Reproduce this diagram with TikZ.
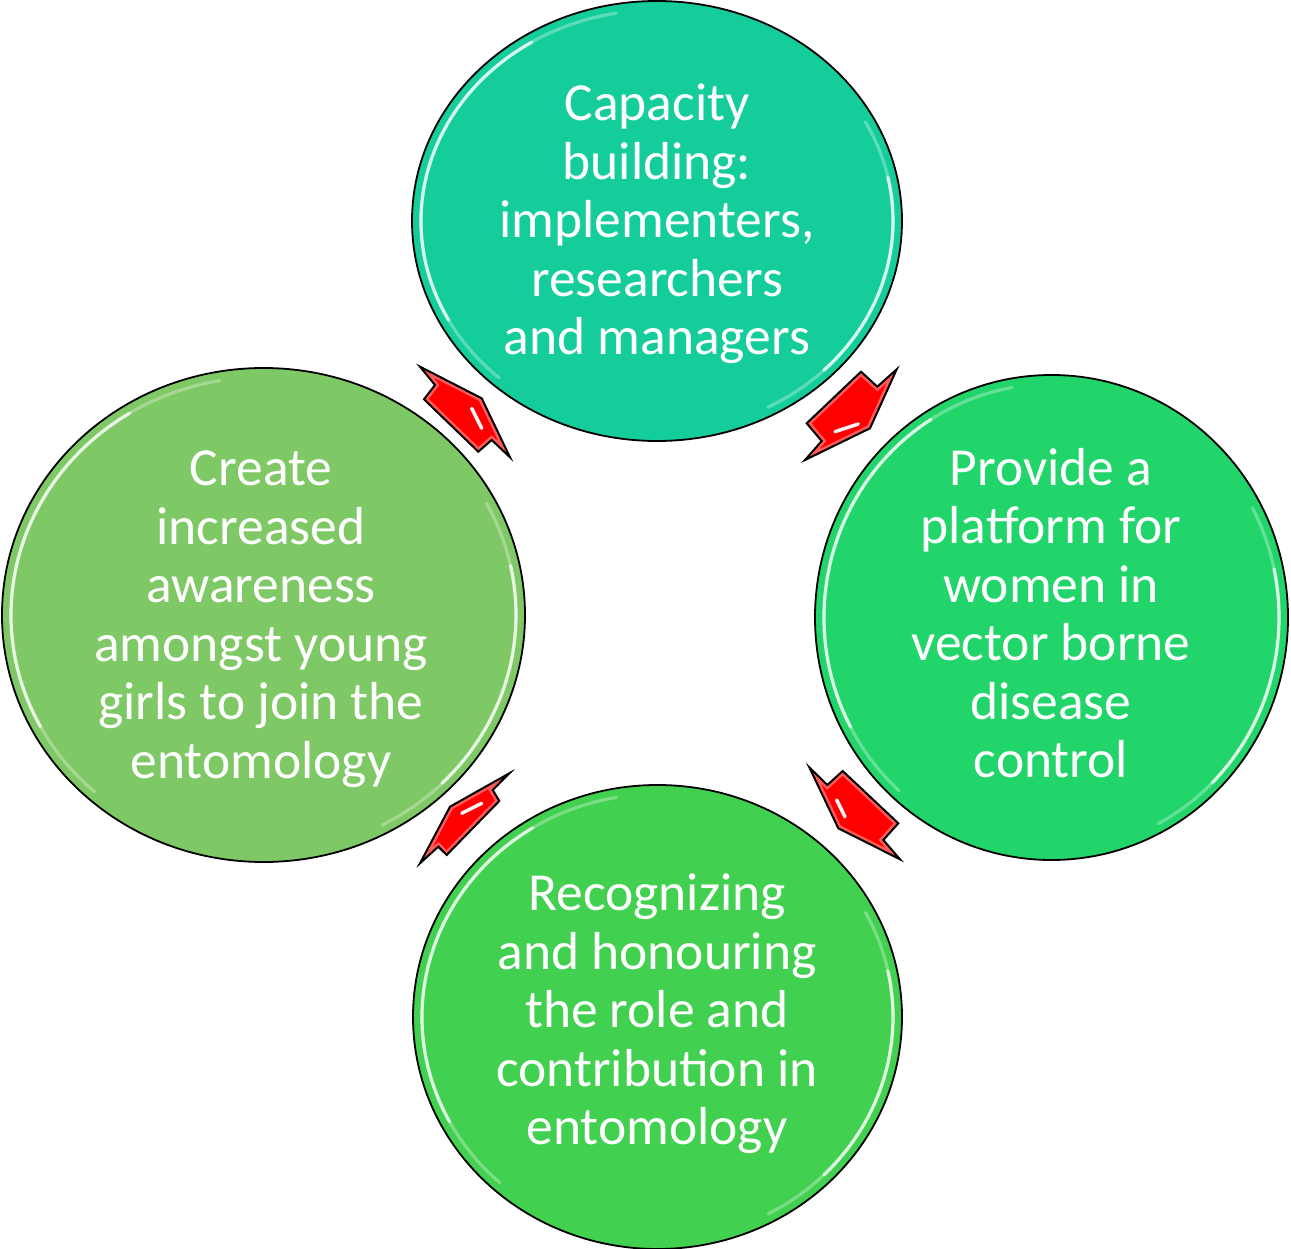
\documentclass[tikz,border=0pt]{standalone}
\usepackage{fontspec}
\setmainfont{Carlito}
\usetikzlibrary{shapes.geometric}
\definecolor{cTop}{RGB}{21,205,155}
\definecolor{cRight}{RGB}{34,213,106}
\definecolor{cBottom}{RGB}{66,208,80}
\definecolor{cLeft}{RGB}{126,200,101}
\definecolor{arrowred}{RGB}{255,0,0}
\newcommand\glossring[4]{%
  \draw[glossfaint] ([shift={(#1,#2)}]100:#3pt and #4pt) arc[start angle=100,end angle=228,x radius=#3pt,y radius=#4pt];
  \draw[gloss] ([shift={(#1,#2)}]122:#3pt and #4pt) arc[start angle=122,end angle=208,x radius=#3pt,y radius=#4pt];
  \draw[glossfaint] ([shift={(#1,#2)}]-62:#3pt and #4pt) arc[start angle=-62,end angle=28,x radius=#3pt,y radius=#4pt];
  \draw[gloss] ([shift={(#1,#2)}]-45:#3pt and #4pt) arc[start angle=-45,end angle=12,x radius=#3pt,y radius=#4pt];
}
\newcommand\redblock[1]{%
  \fill[arrowred] #1;
  \begin{scope}
    \clip #1;
    \draw[white, opacity=0.35, line width=7pt, line join=miter] #1;
  \end{scope}
  \draw[redarrow] #1;
}
\begin{document}
\begin{tikzpicture}[x=1pt,y=1pt,
  bubble/.style={ellipse, draw=black, line width=1.8pt, inner sep=0pt},
  bubbletext/.style={text=white, align=center, font=\fontsize{53.5}{58.5}\selectfont, inner sep=0pt},
  gloss/.style={white, line width=3.2pt, opacity=0.75, line cap=round},
  glossfaint/.style={white, line width=3.2pt, opacity=0.3, line cap=round},
  redarrow/.style={draw=black, line width=2pt, line join=miter},
  shine/.style={white, line width=3.5pt, line cap=round, opacity=0.95}]
\useasboundingbox (0,0) rectangle (1291,-1249);
\fill[white] (0,0) rectangle (1291,-1249);

% circles
\node[bubble, fill=cTop, minimum width=490pt, minimum height=440pt] (top) at (657,-221) {};
\node[bubble, fill=cRight, minimum width=473pt, minimum height=485pt] (right) at (1051.5,-617.5) {};
\node[bubble, fill=cLeft, minimum width=523pt, minimum height=494pt] (left) at (263.5,-615) {};
\node[bubble, fill=cBottom, minimum width=489pt, minimum height=464pt] (bottom) at (657.5,-1017) {};

\glossring{657}{-221}{236}{211}
\glossring{1051.5}{-617.5}{227.5}{233.5}
\glossring{263.5}{-615}{252.5}{238}
\glossring{657.5}{-1017}{235.5}{223}

% texts
\node[bubbletext] (toptext) at (top.center) [yshift=-3pt] {Capacity\\building:\\implementers,\\researchers\\and managers};
\node[bubbletext] (righttext) at (1051,-613) {Provide a\\platform for\\women in\\vector borne\\disease\\control};
\node[bubbletext] (bottomtext) at (657,-1014) {Recognizing\\and honouring\\the role and\\contribution in\\entomology};
\node[bubbletext] (lefttext) at (261,-619) {Create\\increased\\awareness\\amongst young\\girls to join the\\entomology};

% arrows
\redblock{(896.7,-369.3) -- (877.3,-386.7) -- (861,-371.7) -- (806.7,-423.3) -- (821.7,-441) -- (805,-460) -- (870,-428.3) -- cycle}
\draw[shine] (835,-431.7) -- (858.3,-424);

\redblock{(420,-366.7) -- (435,-385) -- (424,-399.3) -- (478.3,-451.7) -- (491.7,-440) -- (510,-457.3) -- (481.7,-398.3) -- cycle}
\draw[shine] (471.7,-408.3) -- (481.7,-428.3);

\redblock{(809.3,-767.3) -- (827.3,-785) -- (842.7,-771) -- (898.3,-823.3) -- (883.3,-840) -- (900,-859.3) -- (838.3,-828.3) -- cycle}
\draw[shine] (836.7,-800) -- (845,-816.7);

\redblock{(509.3,-773.3) -- (492.7,-790) -- (499.3,-801) -- (446.7,-855) -- (438.3,-846.7) -- (420,-863.3) -- (450,-806.7) -- cycle}
\draw[shine] (461.7,-813.3) -- (481.7,-803.3);
\end{tikzpicture}
\end{document}
